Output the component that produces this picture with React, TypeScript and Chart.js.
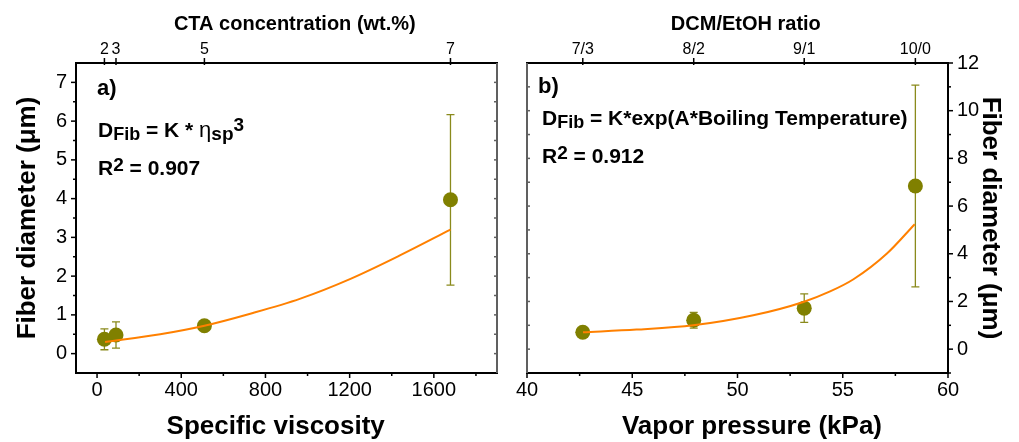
import React, { useEffect, useRef } from 'react';
import { Chart, registerables } from 'chart.js';
Chart.register(...registerables);

const FONT = '"Liberation Sans", Arial, sans-serif';

// ---------- Panel a) ----------
const viscosity = [35, 90, 510, 1679];
const diameterA = [0.37, 0.48, 0.72, 3.97];
const errorA = [0.27, 0.34, 0.05, 2.2];
const ctaPositions = [35, 90, 510, 1679];
const ctaLabels = ['2', '3', '5', '7'];
const fitAX = [38, 300, 510, 728, 966, 1204, 1441, 1679];
const fitAY = [0.3, 0.5, 0.72, 1.03, 1.42, 1.93, 2.54, 3.2];
const xTicksA = [0, 400, 800, 1200, 1600];
const xMinorA = [200, 600, 1000, 1400, 1800];
const yTicksA = [0, 1, 2, 3, 4, 5, 6, 7];
const yMinorA = [0.5, 1.5, 2.5, 3.5, 4.5, 5.5, 6.5];

// ---------- Panel b) ----------
const vaporPressure = [42.65, 47.92, 53.17, 58.45];
const diameterB = [0.71, 1.21, 1.72, 6.84];
const errorB = [0.04, 0.33, 0.6, 4.23];
const ratioPositions = [42.65, 47.92, 53.17, 58.45];
const ratioLabels = ['7/3', '8/2', '9/1', '10/0'];
const fitBX = [42.66, 45.2, 47.9, 50.75, 53.13, 54.4, 55.51, 57.1, 58.42];
const fitBY = [0.71, 0.82, 1.0, 1.42, 1.98, 2.42, 2.93, 4.01, 5.24];
const xTicksB = [40, 45, 50, 55, 60];
const xMinorB = [42.5, 47.5, 52.5, 57.5];
const yTicksB = [0, 2, 4, 6, 8, 10, 12];
const yMinorB = [-1, 1, 3, 5, 7, 9, 11];
const yMirrorB = [-1, 0, 1, 2, 3, 4, 5, 6, 7, 8, 9, 10, 11, 12];

const MARKER = '#808000';
const ERRCOL = '#8a8a1c';
const FIT = '#ff8000';
const SP = '\u00A0';

type TickSpec = { scale: string; side: 'top' | 'bottom' | 'left' | 'right'; values: number[]; out: number; inn: number; color: string };
type Seg = { t: string; size: number; bold?: boolean; dy?: number };

function framePlugin(spines: Record<string, string>, ticks: TickSpec[]) {
  return {
    id: 'frameTicks',
    afterDraw(chart: any) {
      const { ctx } = chart;
      const { left, right, top, bottom } = chart.chartArea;
      ctx.save();
      ctx.lineCap = 'butt';
      for (const t of ticks) {
        const sc = chart.scales[t.scale];
        ctx.strokeStyle = t.color;
        ctx.lineWidth = 1.5;
        for (const v of t.values) {
          const p = sc.getPixelForValue(v);
          ctx.beginPath();
          if (t.side === 'bottom') { ctx.moveTo(p, bottom - t.inn); ctx.lineTo(p, bottom + t.out); }
          if (t.side === 'top') { ctx.moveTo(p, top + t.inn); ctx.lineTo(p, top - t.out); }
          if (t.side === 'left') { ctx.moveTo(left + t.inn, p); ctx.lineTo(left - t.out, p); }
          if (t.side === 'right') { ctx.moveTo(right - t.inn, p); ctx.lineTo(right + t.out, p); }
          ctx.stroke();
        }
      }
      ctx.lineWidth = 2;
      const sp: [string, number, number, number, number][] = [
        ['top', left - 1, top, right + 1, top],
        ['bottom', left - 1, bottom, right + 1, bottom],
        ['left', left, top, left, bottom],
        ['right', right, top, right, bottom],
      ];
      for (const [k, x1, y1, x2, y2] of sp) {
        ctx.strokeStyle = spines[k];
        ctx.beginPath();
        ctx.moveTo(x1, y1);
        ctx.lineTo(x2, y2);
        ctx.stroke();
      }
      ctx.restore();
    },
  };
}

function errorPlugin(xs: number[], ys: number[], es: number[], yId: string) {
  return {
    id: 'errorBars',
    beforeDatasetsDraw(chart: any) {
      const { ctx } = chart;
      const sx = chart.scales.x;
      const sy = chart.scales[yId];
      ctx.save();
      ctx.strokeStyle = ERRCOL;
      ctx.lineWidth = 1.3;
      xs.forEach((xv, i) => {
        const x = sx.getPixelForValue(xv);
        const y1 = sy.getPixelForValue(ys[i] + es[i]);
        const y2 = sy.getPixelForValue(ys[i] - es[i]);
        ctx.beginPath();
        ctx.moveTo(x, y1); ctx.lineTo(x, y2);
        ctx.moveTo(x - 4, y1); ctx.lineTo(x + 4, y1);
        ctx.moveTo(x - 4, y2); ctx.lineTo(x + 4, y2);
        ctx.stroke();
      });
      ctx.restore();
    },
  };
}

function drawRich(ctx: CanvasRenderingContext2D, x: number, y: number, segs: Seg[]) {
  let cx = x;
  for (const s of segs) {
    ctx.font = `${s.bold === false ? '' : 'bold '}${s.size}px ${FONT}`;
    ctx.fillText(s.t, cx, y + (s.dy || 0));
    cx += ctx.measureText(s.t).width;
  }
}

function textPlugin(lines: { x: number; y: number; segs: Seg[] }[]) {
  return {
    id: 'annot',
    afterDraw(chart: any) {
      const { ctx } = chart;
      ctx.save();
      ctx.fillStyle = '#000';
      ctx.textBaseline = 'alphabetic';
      ctx.textAlign = 'left';
      for (const l of lines) drawRich(ctx, l.x, l.y, l.segs);
      ctx.restore();
    },
  };
}

const tickFont = { family: FONT, size: 20 };
const topFont = { family: FONT, size: 16 };
const titleFont = { family: FONT, size: 26, weight: 'bold' as const };
const topTitleFont = { family: FONT, size: 20, weight: 'bold' as const };
const noGrid = { display: false, drawTicks: false, tickLength: 0 };
const plain = (v: any) => String(v);

function setTicks(values: number[]) {
  return (scale: any) => { scale.ticks = values.map((v) => ({ value: v })); };
}

function configA(): any {
  return {
    type: 'scatter',
    data: {
      datasets: [
        {
          type: 'line',
          data: fitAX.map((x, i) => ({ x, y: fitAY[i] })),
          borderColor: FIT, borderWidth: 2, pointRadius: 0, fill: false,
          cubicInterpolationMode: 'monotone', order: 0,
        },
        {
          type: 'scatter',
          data: viscosity.map((x, i) => ({ x, y: diameterA[i] })),
          pointRadius: 7.5, backgroundColor: MARKER, borderColor: MARKER, borderWidth: 0, order: 1,
        },
      ],
    },
    options: {
      animation: false,
      responsive: false,
      maintainAspectRatio: false,
      layout: { padding: { left: 0, right: 13, top: 0, bottom: 0 } },
      plugins: { legend: { display: false }, tooltip: { enabled: false } },
      scales: {
        x: {
          type: 'linear', position: 'bottom', min: -100, max: 1900,
          afterBuildTicks: setTicks(xTicksA),
          grid: noGrid, border: { display: false },
          ticks: { font: tickFont, color: '#000', padding: 5, maxRotation: 0, autoSkip: false, callback: plain },
          title: { display: true, text: 'Specific viscosity' + SP + SP + SP, font: titleFont, color: '#000', padding: { top: 0, bottom: 0 } },
          afterFit: (s: any) => { s.height = 69; },
        },
        x2: {
          type: 'linear', position: 'top', min: -100, max: 1900,
          afterBuildTicks: setTicks(ctaPositions),
          grid: noGrid, border: { display: false },
          ticks: { font: topFont, color: '#000', padding: 4, maxRotation: 0, autoSkip: false, callback: (_v: any, i: number) => ctaLabels[i] },
          title: { display: true, text: SP + SP + SP + 'CTA concentration (wt.%)', font: topTitleFont, color: '#000', padding: { top: 12, bottom: 0 } },
          afterFit: (s: any) => { s.height = 63; },
        },
        y: {
          type: 'linear', position: 'left', min: -0.5, max: 7.5,
          afterBuildTicks: setTicks(yTicksA),
          grid: noGrid, border: { display: false },
          ticks: { font: tickFont, color: '#000', padding: 9, autoSkip: false, callback: plain },
          title: { display: true, text: 'Fiber diameter (μm)', font: titleFont, color: '#000', padding: { top: 12, bottom: 0 } },
          afterFit: (s: any) => { s.width = 76; },
        },
      },
    },
    plugins: [
      errorPlugin(viscosity, diameterA, errorA, 'y'),
      framePlugin(
        { top: '#000', bottom: '#000', left: '#000', right: '#606060' },
        [
          { scale: 'x', side: 'bottom', values: xTicksA, out: 5, inn: 0, color: '#000' },
          { scale: 'x', side: 'bottom', values: xMinorA, out: 3, inn: 0, color: '#000' },
          { scale: 'x2', side: 'top', values: ctaPositions, out: 5, inn: 2, color: '#000' },
          { scale: 'y', side: 'left', values: yTicksA, out: 5, inn: 0, color: '#000' },
          { scale: 'y', side: 'left', values: yMinorA, out: 3, inn: 0, color: '#000' },
          { scale: 'y', side: 'right', values: [...yTicksA, ...yMinorA], out: 0, inn: 3, color: '#606060' },
        ],
      ),
      textPlugin([
        { x: 97, y: 95, segs: [{ t: 'a)', size: 22 }] },
        { x: 98, y: 137, segs: [
          { t: 'D', size: 21 }, { t: 'Fib', size: 18, dy: 3 }, { t: ' = K * ', size: 21 },
          { t: 'η', size: 22, bold: false }, { t: 'sp', size: 19, dy: 3 }, { t: '3', size: 19, dy: -6 },
        ] },
        { x: 98, y: 175, segs: [{ t: 'R', size: 21 }, { t: '2', size: 19, dy: -4 }, { t: ' = 0.907', size: 21 }] },
      ]),
    ],
  };
}

function configB(): any {
  return {
    type: 'scatter',
    data: {
      datasets: [
        {
          type: 'line',
          data: fitBX.map((x, i) => ({ x, y: fitBY[i] })),
          borderColor: FIT, borderWidth: 2, pointRadius: 0, fill: false,
          cubicInterpolationMode: 'monotone', order: 0,
        },
        {
          type: 'scatter',
          data: vaporPressure.map((x, i) => ({ x, y: diameterB[i] })),
          pointRadius: 7.5, backgroundColor: MARKER, borderColor: MARKER, borderWidth: 0, order: 1,
        },
      ],
    },
    options: {
      animation: false,
      responsive: false,
      maintainAspectRatio: false,
      layout: { padding: { left: 17, right: 0, top: 0, bottom: 0 } },
      plugins: { legend: { display: false }, tooltip: { enabled: false } },
      scales: {
        x: {
          type: 'linear', position: 'bottom', min: 40, max: 60,
          afterBuildTicks: setTicks(xTicksB),
          grid: noGrid, border: { display: false },
          ticks: { font: tickFont, color: '#000', padding: 5, maxRotation: 0, autoSkip: false, callback: plain },
          title: { display: true, text: SP + SP + SP + SP + 'Vapor pressure (kPa)', font: titleFont, color: '#000', padding: { top: 0, bottom: 0 } },
          afterFit: (s: any) => { s.height = 69; },
        },
        x2: {
          type: 'linear', position: 'top', min: 40, max: 60,
          afterBuildTicks: setTicks(ratioPositions),
          grid: noGrid, border: { display: false },
          ticks: { font: topFont, color: '#000', padding: 4, maxRotation: 0, autoSkip: false, callback: (_v: any, i: number) => ratioLabels[i] },
          title: { display: true, text: SP + SP + SP + 'DCM/EtOH ratio', font: topTitleFont, color: '#000', padding: { top: 12, bottom: 0 } },
          afterFit: (s: any) => { s.height = 63; },
        },
        y: {
          type: 'linear', position: 'right', min: -1, max: 12,
          afterBuildTicks: setTicks(yTicksB),
          grid: noGrid, border: { display: false },
          ticks: { font: tickFont, color: '#000', padding: 9, autoSkip: false, callback: plain },
          title: { display: true, text: 'Fiber diameter (μm)', font: titleFont, color: '#000', padding: { top: 13, bottom: 0 } },
          afterFit: (s: any) => { s.width = 71; },
        },
      },
    },
    plugins: [
      errorPlugin(vaporPressure, diameterB, errorB, 'y'),
      framePlugin(
        { top: '#000', bottom: '#000', left: '#606060', right: '#000' },
        [
          { scale: 'x', side: 'bottom', values: xTicksB, out: 5, inn: 0, color: '#000' },
          { scale: 'x', side: 'bottom', values: xMinorB, out: 3, inn: 0, color: '#000' },
          { scale: 'x2', side: 'top', values: ratioPositions, out: 5, inn: 2, color: '#000' },
          { scale: 'y', side: 'right', values: yTicksB, out: 5, inn: 0, color: '#000' },
          { scale: 'y', side: 'right', values: yMinorB, out: 3, inn: 0, color: '#000' },
          { scale: 'y', side: 'left', values: yMirrorB, out: 0, inn: 3, color: '#606060' },
        ],
      ),
      textPlugin([
        { x: 28, y: 93, segs: [{ t: 'b)', size: 22 }] },
        { x: 32, y: 125, segs: [
          { t: 'D', size: 21 }, { t: 'Fib', size: 18, dy: 3 }, { t: ' = K*exp(A*Boiling Temperature)', size: 21 },
        ] },
        { x: 32, y: 163, segs: [{ t: 'R', size: 21 }, { t: '2', size: 19, dy: -4 }, { t: ' = 0.912', size: 21 }] },
      ]),
    ],
  };
}

export default function App() {
  const refA = useRef<HTMLCanvasElement>(null);
  const refB = useRef<HTMLCanvasElement>(null);
  useEffect(() => {
    const a = new Chart(refA.current as HTMLCanvasElement, configA());
    const b = new Chart(refB.current as HTMLCanvasElement, configB());
    return () => { a.destroy(); b.destroy(); };
  }, []);
  return (
    <div style={{ position: 'absolute', left: 0, top: 0, width: 1019, height: 442, background: '#fff' }}>
      <canvas ref={refA} width={510} height={442} style={{ position: 'absolute', left: 0, top: 0, width: 510, height: 442 }} />
      <canvas ref={refB} width={509} height={442} style={{ position: 'absolute', left: 510, top: 0, width: 509, height: 442 }} />
    </div>
  );
}
